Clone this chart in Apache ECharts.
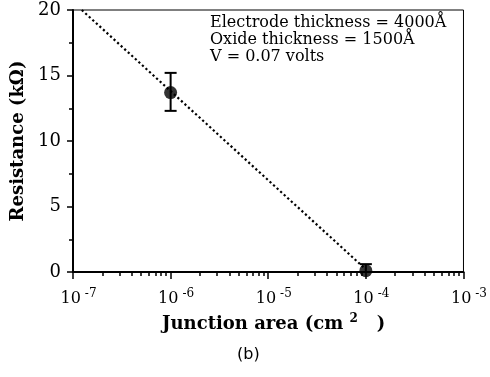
<!DOCTYPE html>
<html><head><meta charset="utf-8">
<script src="https://cdn.jsdelivr.net/npm/echarts@6/dist/echarts.min.js"></script>
<style>html,body{margin:0;padding:0;background:#fff}#c{width:490px;height:377px}</style>
</head><body><div id="c"></div>
<script>
// ---- data ----
const areas = [1e-6, 1e-4];            // cm^2
const resistance = [13.7, 0.1];         // kOhm
const errLow = [12.3, 0.0];
const errHigh = [15.2, 0.6];
const fitAreas = [1.23e-7, 1e-4];
const fitRes = [20, 0.2];
const xTickExponents = [-7, -6, -5, -4, -3];
const yTicks = [0, 5, 10, 15, 20];
const noteLines = ['Electrode thickness = 4000Å', 'Oxide thickness = 1500Å', 'V = 0.07 volts'];

const serif = 'DejaVu Serif';
const lg = Math.log10;
const minorVals = [];
xTickExponents.slice(0, -1).forEach(e => { for (let k = 2; k <= 9; k++) minorVals.push(lg(k * Math.pow(10, e))); });

const chart = echarts.init(document.getElementById('c'), null, {renderer: 'canvas'});
chart.setOption({
  animation: false,
  backgroundColor: '#fff',
  grid: {left: 73, top: 10, width: 392, height: 262, show: true, borderColor: '#000', borderWidth: 1, backgroundColor: 'transparent'},
  title: [{
    text: 'Junction area (cm {s|2}   )',
    left: 157, top: 308,
    textStyle: {fontFamily: serif, fontWeight: 'bold', fontSize: 18, color: '#000',
      rich: {s: {fontFamily: serif, fontWeight: 'bold', fontSize: 12, color: '#000', padding: [0, 0, 10, 0]}}}
  }, {
    text: '(b)', left: 232, top: 342,
    textStyle: {fontFamily: 'DejaVu Sans', fontWeight: 'normal', fontSize: 16, color: '#000'}
  }],
  graphic: [{
    type: 'text', left: 210, top: 14,
    style: {text: noteLines.join('\n'), font: '16px "' + serif + '"', fill: '#000', lineHeight: 17}
  }],
  xAxis: [{
    type: 'value', min: xTickExponents[0], max: xTickExponents[xTickExponents.length - 1], interval: 1,
    position: 'bottom',
    axisLine: {show: true, onZero: false, lineStyle: {color: '#000', width: 2}},
    axisTick: {show: true, length: 7, lineStyle: {color: '#000', width: 1.5}},
    splitLine: {show: false},
    axisLabel: {
      margin: 16, color: '#000', fontFamily: serif, fontSize: 16,
      formatter: v => '{sp|}10{sup|' + v + '}',
      rich: {sp: {width: 11}, sup: {fontFamily: serif, fontSize: 12, padding: [0, 0, 10, 4], color: '#000'}}
    }
  }, {
    type: 'value', min: xTickExponents[0], max: xTickExponents[xTickExponents.length - 1],
    position: 'bottom',
    axisLine: {show: false},
    axisLabel: {show: false},
    splitLine: {show: false},
    axisTick: {show: true, length: 4, customValues: minorVals, lineStyle: {color: '#000', width: 1.5}}
  }],
  yAxis: {
    type: 'value', min: 0, max: 20, interval: 5,
    name: 'Resistance (kΩ)', nameLocation: 'middle', nameGap: 42,
    nameTextStyle: {fontFamily: serif, fontWeight: 'bold', fontSize: 18, color: '#000'},
    axisLine: {show: true, lineStyle: {color: '#000', width: 2}},
    axisTick: {show: true, length: 6, lineStyle: {color: '#000', width: 1.5}},
    minorTick: {show: true, splitNumber: 2, length: 4, lineStyle: {color: '#000', width: 1.5}},
    splitLine: {show: false},
    axisLabel: {margin: 12, color: '#000', fontFamily: serif, fontSize: 18}
  },
  series: [{
    type: 'line', xAxisIndex: 0,
    data: fitAreas.map((a, i) => [lg(a), fitRes[i]]),
    showSymbol: false, symbol: 'none',
    lineStyle: {color: '#000', width: 2.2, type: [2.2, 2.6]},
    z: 2
  }, {
    type: 'custom', xAxisIndex: 0,
    data: areas.map((a, i) => [lg(a), errLow[i], errHigh[i]]),
    renderItem: (params, api) => {
      const x = api.value(0);
      const lo = api.coord([x, api.value(1)]);
      const hi = api.coord([x, api.value(2)]);
      const w = 6;
      const st = {stroke: '#000', lineWidth: 2};
      return {type: 'group', children: [
        {type: 'line', shape: {x1: lo[0], y1: lo[1], x2: hi[0], y2: hi[1]}, style: st},
        {type: 'line', shape: {x1: hi[0] - w, y1: hi[1], x2: hi[0] + w, y2: hi[1]}, style: st},
        {type: 'line', shape: {x1: lo[0] - w, y1: lo[1], x2: lo[0] + w, y2: lo[1]}, style: st}
      ]};
    },
    z: 3
  }, {
    type: 'scatter', xAxisIndex: 0,
    data: areas.map((a, i) => [lg(a), resistance[i]]),
    symbol: 'circle', symbolSize: 13,
    itemStyle: {color: '#000'},
    z: 4
  }]
});
</script></body></html>
